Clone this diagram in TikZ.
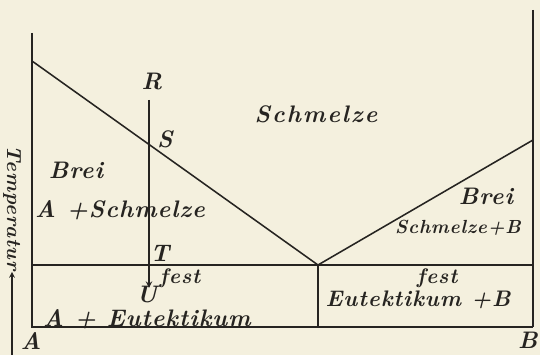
\documentclass[tikz,border=0pt]{standalone}
\usepackage{fontspec}
\usepackage{tikz}
\newfontfamily\kursiv{lmroman10-bolditalic.otf}[LetterSpace=4]
\newfontfamily\kursivweit{lmroman10-bolditalic.otf}[LetterSpace=8]
\definecolor{papier}{RGB}{244,240,222}
\definecolor{tinte}{RGB}{38,36,33}
\tikzset{
  linie/.style={line width=1.1pt, tinte},
  schrift/.style={font=\fontsize{17}{20}\kursiv, text=tinte, inner sep=1pt},
  weit/.style={font=\fontsize{17}{20}\kursivweit, text=tinte, inner sep=1pt},
  klein/.style={font=\fontsize{13.5}{16}\kursiv, text=tinte, inner sep=1pt}
}

\begin{document}
\begin{tikzpicture}[>=stealth]
  % Hintergrund
  \fill[papier] (0,0) rectangle (13.5,8.875);
  \useasboundingbox (0,0) rectangle (13.5,8.875);
  % Punkte
  \coordinate (A0) at (0.8,0.7);
  \coordinate (A1) at (0.8,8.05);
  \coordinate (B0) at (13.325,0.7);
  \coordinate (B1) at (13.325,8.625);
  \coordinate (LA) at (0.8,7.35);
  \coordinate (LB) at (13.325,5.375);
  \coordinate (E) at (7.95,2.25);
  \coordinate (EA) at (0.8,2.25);
  \coordinate (EB) at (13.325,2.25);
  \coordinate (E0) at (7.95,0.7);
  \coordinate (R0) at (3.725,6.375);
  \coordinate (U0) at (3.725,1.675);
  \coordinate (T0) at (0.3,0);
  \coordinate (T1) at (0.3,2.075);
  % 1. Rahmen und Achsen
  \draw[linie] (A1) -- (A0) -- (B0);
  \draw[linie] (B1) -- (B0);
  % 2. Schmelzlinien
  \draw[linie] (LA) -- (E) -- (LB);
  % 3. Eutektische Linie
  \draw[linie] (EA) -- (EB);
  \draw[linie] (E) -- (E0);
  % 4. Abkuehlung R -> U
  \draw[linie, ->] (R0) -- (U0);
  % 5. Temperaturpfeil
  \draw[line width=0.8pt, tinte, ->] (T0) -- (T1);
  \node[schrift, font=\fontsize{14.5}{17}\kursiv, rotate=-90] (temp) at (0.3,3.675) {Temperatur};
  % 6. Beschriftung
  \node[schrift] (r) at (3.8,6.825) {R};
  \node[schrift] (s) at (4.125,5.4) {S};
  \node[schrift] (t) at (4.0,2.55) {T};
  \node[schrift] (u) at (3.675,1.5) {U};
  \node[weit] (schm) at (7.9,6.025) {Schmelze};
  \node[schrift] (breiA) at (1.9,4.625) {Brei};
  \node[schrift] (aschm) at (3.0,3.625) {A +Schmelze};
  \node[klein, font=\fontsize{15}{18}\kursiv] (festA) at (4.5,1.925) {fest};
  \node[schrift] (aeut) at (3.675,0.9) {A + Eutektikum};
  \node[schrift] (breiB) at (12.15,3.975) {Brei};
  \node[klein] (schmB) at (11.45,3.175) {Schmelze+B};
  \node[klein, font=\fontsize{15}{18}\kursiv] (festB) at (10.93,1.925) {fest};
  \node[schrift, font=\fontsize{16}{19}\kursiv] (eutB) at (10.45,1.375) {Eutektikum +B};
  \node[schrift] (a) at (0.775,0.36) {A};
  \node[schrift] (b) at (13.2,0.36) {B};
\end{tikzpicture}
\end{document}
